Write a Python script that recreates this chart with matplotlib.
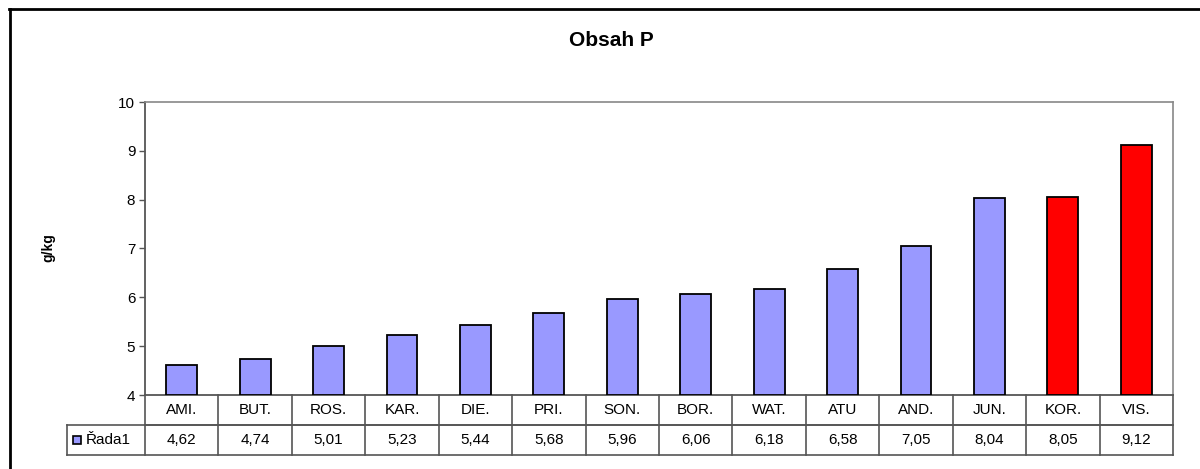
import matplotlib.pyplot as plt
import numpy as np
from matplotlib.lines import Line2D
from matplotlib.patches import Rectangle

plt.rcParams['font.family'] = ['Liberation Sans', 'DejaVu Sans']

categories = ['AMI.', 'BUT.', 'ROS.', 'KAR.', 'DIE.', 'PRI.', 'SON.',
              'BOR.', 'WAT.', 'ATU', 'AND.', 'JUN.', 'KOR.', 'VIS.']
values = [4.62, 4.74, 5.01, 5.23, 5.44, 5.68, 5.96,
          6.06, 6.18, 6.58, 7.05, 8.04, 8.05, 9.12]
highlight = ['KOR.', 'VIS.']
series_name = 'Řada1'

W, H = 1200, 469
fig = plt.figure(figsize=(W / 100, H / 100), dpi=100)

# plot area in pixels: left 145, right 1173, top 102, bottom 395
ax = fig.add_axes([145 / W, 1 - 395 / H, (1173 - 145) / W, (395 - 102) / H])

x = np.arange(len(categories))
colors = ['#ff0000' if c in highlight else '#9999ff' for c in categories]
ax.bar(x, np.array(values) - 4, bottom=4, width=0.42, color=colors,
       edgecolor='black', linewidth=1.3, zorder=3)

ax.set_xlim(-0.5, len(categories) - 0.5)
ax.set_ylim(4, 10)
ax.set_yticks(range(4, 11))
ax.set_xticks([])
ax.tick_params(axis='y', labelsize=11, length=4, width=1, color='#555555', pad=3)
for s in ['top', 'right']:
    ax.spines[s].set_color('#888888')
    ax.spines[s].set_linewidth(1.2)
ax.spines['left'].set_color('#555555')
ax.spines['left'].set_linewidth(1.3)
ax.spines['bottom'].set_color('#555555')
ax.spines['bottom'].set_linewidth(1.3)

def fx(px):
    return px / W

def fy(py):
    return 1 - py / H

fig.text(fx(48), fy(248), 'g/kg', ha='center', va='center', rotation=90,
         fontsize=10, fontweight='bold')
fig.text(fx(611), fy(40), 'Obsah P', ha='center', va='center',
         fontsize=15, fontweight='bold')

# data table under the axes, drawn in figure pixels
left_px, right_px = 145, 1173
row1_top, row1_bot, row2_bot = 395, 425, 455
legend_left = 67
col_w = (right_px - left_px) / len(categories)
lc = '#555555'
lines = []
lines.append(((left_px, right_px), (row1_bot, row1_bot)))
lines.append(((legend_left, right_px), (row1_bot, row1_bot)))
lines.append(((legend_left, right_px), (row2_bot, row2_bot)))
lines.append(((legend_left, legend_left), (row1_bot, row2_bot)))
for i in range(len(categories) + 1):
    xp = left_px + i * col_w
    lines.append(((xp, xp), (row1_top, row2_bot)))
for (xs, ys) in lines:
    fig.add_artist(Line2D([fx(xs[0]), fx(xs[1])], [fy(ys[0]), fy(ys[1])],
                          color=lc, lw=1.2))

for i, (c, v) in enumerate(zip(categories, values)):
    xc = left_px + (i + 0.5) * col_w
    fig.text(fx(xc), fy((row1_top + row1_bot) / 2), c, ha='center',
             va='center', fontsize=11)
    fig.text(fx(xc), fy((row1_bot + row2_bot) / 2), f'{v:.2f}'.replace('.', ','),
             ha='center', va='center', fontsize=11)

# legend key in the table
fig.add_artist(Rectangle((fx(73), fy(444)), 8 / W, 8 / H, facecolor='#9999ff',
                         edgecolor='black', lw=1.2))
fig.text(fx(86), fy(440), series_name, ha='left', va='center', fontsize=11)

# outer chart frame (left and top edges)
fig.add_artist(Line2D([fx(10), fx(10)], [fy(9), fy(469)], color='black', lw=2))
fig.add_artist(Line2D([fx(9), fx(1200)], [fy(9), fy(9)], color='black', lw=2))

fig.savefig('out.png', dpi=100)
